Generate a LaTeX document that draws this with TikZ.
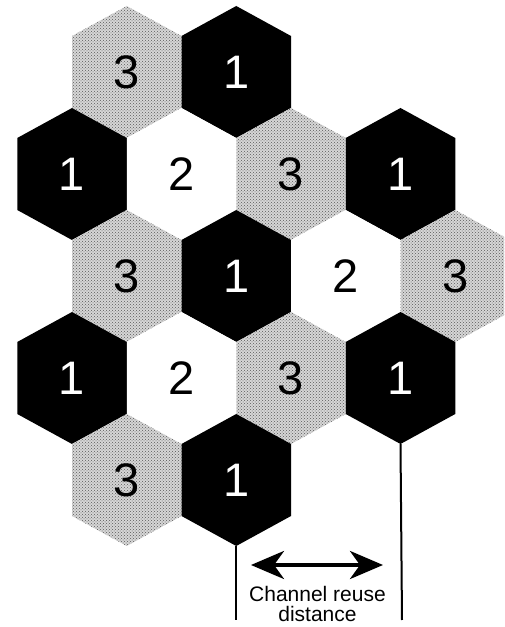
\documentclass[tikz,border=0pt]{standalone}
\usepackage{fontspec}
\setmainfont{Liberation Sans}
\usetikzlibrary{arrows.meta,patterns}
\tikzset{
  hexA/.style={fill=black},
  hexB/.style={fill=white},
  hexC/.style={fill=black!16, postaction={pattern=crosshatch dots, pattern color=black!65}},
  digit/.style={inner sep=0pt, font=\fontsize{47}{47}\selectfont},
  numhexA/.style={digit, text=white},
  numhexB/.style={digit, text=black},
  numhexC/.style={digit, text=black},
  guide/.style={line width=2pt},
  reuse/.style={line width=4pt, arrows={Stealth[length=33pt,width=28pt,inset=10pt]-Stealth[length=33pt,width=28pt,inset=10pt]}},
  caption/.style={align=center, inner sep=0pt, font=\fontsize{21}{19.5}\selectfont}
}
\newcommand\hexcell[5]{%
  \path[#4] (#2,#3) ++(0,66) -- ++(54.75,-30) -- ++(0,-72) -- ++(-54.75,-30) -- ++(-54.75,30) -- ++(0,72) -- cycle;
  \node[num#4] (#1) at (#2,#3) {#5};
  \coordinate (#1-s) at (#2,#3-66);
}
\begin{document}
\begin{tikzpicture}[x=1pt,y=1pt]
\useasboundingbox (0,0) rectangle (504,627);
\clip (0,0) rectangle (504,627);
% row 1
\hexcell{c11}{126.75}{555}{hexC}{3}
\hexcell{c12}{236.25}{555}{hexA}{1}
% row 2
\hexcell{c21}{72}{453}{hexA}{1}
\hexcell{c22}{181.5}{453}{hexB}{2}
\hexcell{c23}{291}{453}{hexC}{3}
\hexcell{c24}{400.5}{453}{hexA}{1}
% row 3
\hexcell{c31}{126.75}{351}{hexC}{3}
\hexcell{c32}{236.25}{351}{hexA}{1}
\hexcell{c33}{345.75}{351}{hexB}{2}
\hexcell{c34}{455.25}{351}{hexC}{3}
% row 4
\hexcell{c41}{72}{249}{hexA}{1}
\hexcell{c42}{181.5}{249}{hexB}{2}
\hexcell{c43}{291}{249}{hexC}{3}
\hexcell{c44}{400.5}{249}{hexA}{1}
% row 5
\hexcell{c51}{126.75}{147}{hexC}{3}
\hexcell{c52}{236.25}{147}{hexA}{1}
% reuse distance
\coordinate (gl) at (236.25,7);
\coordinate (gr) at (402,7);
\draw[guide] (c52-s) -- (gl);
\draw[guide] (c44-s) -- (gr);
\coordinate (al) at (251,62);
\coordinate (ar) at (383,62);
\draw[reuse] (al) -- (ar);
\node[caption] (cap) at (317.5,23) {Channel reuse\\distance};
\end{tikzpicture}
\end{document}
